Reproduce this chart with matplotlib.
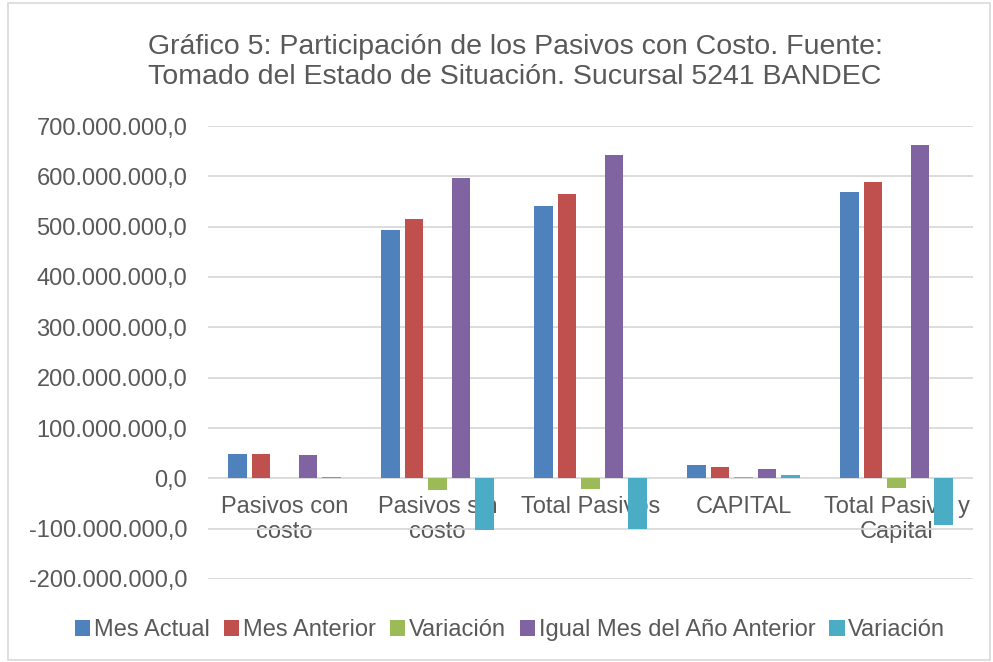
import numpy as np
import matplotlib
matplotlib.use("Agg")
import matplotlib.pyplot as plt
from matplotlib.patches import Rectangle
from matplotlib.ticker import FuncFormatter, MultipleLocator

plt.rcParams['font.family'] = ['Liberation Sans', 'DejaVu Sans']

# data (millones)
categorias = ["Pasivos con\ncosto", "Pasivos sin\ncosto", "Total Pasivos",
              "CAPITAL", "Total Pasivo y\nCapital"]
series = ["Mes Actual", "Mes Anterior", "Variación",
          "Igual Mes del Año Anterior", "Variación"]
mes_actual = [47.7, 493.0, 542.0, 26.0, 568.6]
mes_anterior = [47.5, 515.5, 564.0, 23.0, 588.0]
variacion_mes = [0.2, -22.5, -22.0, 3.0, -19.4]
igual_mes_anio_ant = [45.5, 596.0, 642.0, 19.0, 662.0]
variacion_anio = [2.2, -103.0, -100.0, 7.0, -93.4]

colores = ['#4F81BD', '#C0504D', '#9BBB59', '#8064A2', '#4BACC6']
texto = '#595959'

valores = [mes_actual, mes_anterior, variacion_mes, igual_mes_anio_ant, variacion_anio]

fig = plt.figure(figsize=(9.93, 6.62), dpi=100)
ax = fig.add_axes([208 / 993, 1 - 579 / 662, 765 / 993, 453 / 662])

x = np.arange(len(categorias))
paso = 0.1536
ancho = 0.121
for i, (nombre, vals, col) in enumerate(zip(series, valores, colores)):
    ax.bar(x + (i - 2) * paso, np.array(vals) * 1e6, width=ancho,
           color=col, label=nombre, zorder=2)

ax.set_xlim(-0.5, len(categorias) - 0.5)
ax.set_ylim(-200e6, 700e6)
ax.yaxis.set_major_locator(MultipleLocator(100e6))


def fmt(v, pos):
    s = f"{v:,.1f}"
    return s.replace(',', '_').replace('.', ',').replace('_', '.')


ax.yaxis.set_major_formatter(FuncFormatter(fmt))
ax.grid(axis='y', color='#D9D9D9', linewidth=1.3)
ax.set_axisbelow(True)
for s in ax.spines.values():
    s.set_visible(False)
ax.spines['bottom'].set_position(('data', 0))

ax.set_xticks(x)
ax.set_xticklabels(categorias, linespacing=1.15)
ax.tick_params(axis='both', length=0, labelsize=17, labelcolor=texto)
ax.tick_params(axis='y', pad=15)
ax.tick_params(axis='x', pad=13)

fig.text(515 / 993, 1 - 62 / 662,
         "Gráfico 5: Participación de los Pasivos con Costo. Fuente:\n"
         "Tomado del Estado de Situación. Sucursal 5241 BANDEC",
         ha='center', va='center', fontsize=20.5, color=texto, linespacing=1.15)

fig.legend(loc='center', bbox_to_anchor=(510 / 993, 1 - 630 / 662), ncol=5,
           frameon=False, fontsize=17, labelcolor=texto,
           handlelength=0.65, handleheight=0.65, handletextpad=0.15,
           columnspacing=0.6, borderaxespad=0)

fig.patches.append(Rectangle((8 / 993, 2 / 662), 982 / 993, 657 / 662,
                             transform=fig.transFigure, fill=False,
                             edgecolor='#D9D9D9', linewidth=1.2))

fig.savefig('out.png', dpi=100)
